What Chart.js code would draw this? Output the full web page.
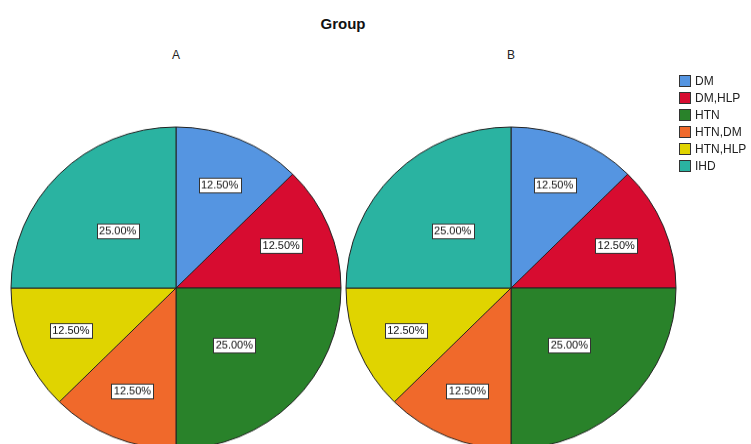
<!DOCTYPE html>
<html>
<head>
<meta charset="utf-8">
<script src="https://cdn.jsdelivr.net/npm/chart.js@4/dist/chart.umd.min.js"></script>
<style>
  html, body { margin: 0; padding: 0; background: #fff; }
  #stage { position: relative; width: 751px; height: 444px; overflow: hidden;
           font-family: "Liberation Sans", Arial, sans-serif; }
  #title { position: absolute; left: 0; width: 686px; top: 15px; text-align: center;
           font-weight: bold; font-size: 15px; color: #111; }
  .panel-label { position: absolute; top: 48px; width: 40px; margin-left: -20px;
                 text-align: center; font-size: 12px; color: #222; }
  .pie { position: absolute; top: 0; width: 352px; height: 576px;
         transform: scaleY(0.976); transform-origin: 50% 288px; }
  #legend { position: absolute; left: 679px; top: 72px; font-size: 12px; color: #222; }
  .item { display: flex; align-items: center; height: 17px; white-space: nowrap; }
  .sw { width: 10px; height: 10px; border: 1px solid #333; margin-right: 4px; }
</style>
</head>
<body>
<div id="stage">
  <div id="title">Group</div>
  <div class="panel-label" style="left:176px">A</div>
  <div class="panel-label" style="left:511px">B</div>
  <div class="pie" style="left:0px"><canvas id="pieA"></canvas></div>
  <div class="pie" style="left:335px"><canvas id="pieB"></canvas></div>
  <div id="legend"></div>
</div>
<script>
// Diagnosis categories and percentage share per group
const categories = ['DM', 'DM,HLP', 'HTN', 'HTN,DM', 'HTN,HLP', 'IHD'];
const groupA = [12.5, 12.5, 25, 12.5, 12.5, 25];
const groupB = [12.5, 12.5, 25, 12.5, 12.5, 25];
const sliceColors = ['#5595E1', '#D70C30', '#29822A', '#F0692B', '#E0D400', '#2AB3A1'];

// Boxed percentage labels inside each slice
const sliceLabels = {
  id: 'sliceLabels',
  afterDatasetsDraw(chart) {
    const ctx = chart.ctx;
    const meta = chart.getDatasetMeta(0);
    const vals = chart.data.datasets[0].data;
    const total = vals.reduce((a, b) => a + b, 0);
    ctx.save();
    ctx.font = '11px "Liberation Sans", Arial, sans-serif';
    ctx.textAlign = 'center';
    ctx.textBaseline = 'middle';
    meta.data.forEach((arc, i) => {
      const p = arc.getProps(['x', 'y', 'startAngle', 'endAngle', 'outerRadius'], true);
      const share = vals[i] / total;
      const mid = (p.startAngle + p.endAngle) / 2;
      const rr = p.outerRadius * (share < 0.2 ? 0.69 : 0.5);
      const x = p.x + Math.cos(mid) * rr;
      const y = p.y + Math.sin(mid) * rr;
      const txt = (share * 100).toFixed(2) + '%';
      const w = Math.round(ctx.measureText(txt).width) + 5, h = 15;
      const bx = Math.round(x - w / 2) + 0.5, by = Math.round(y - h / 2) + 0.5;
      ctx.fillStyle = '#fff';
      ctx.fillRect(bx, by, w, h);
      ctx.strokeStyle = '#333';
      ctx.lineWidth = 1;
      ctx.strokeRect(bx, by, w, h);
      ctx.fillStyle = '#111';
      ctx.fillText(txt, x, y + 0.5);
    });
    ctx.restore();
  }
};

function makePie(id, values) {
  return new Chart(document.getElementById(id), {
    type: 'pie',
    data: {
      labels: categories,
      datasets: [{
        data: values,
        backgroundColor: sliceColors,
        borderColor: '#222',
        borderWidth: 1,
        hoverOffset: 0
      }]
    },
    options: {
      responsive: true,
      maintainAspectRatio: false,
      animation: false,
      radius: 165,
      layout: { padding: 0 },
      events: [],
      plugins: {
        legend: { display: false },
        tooltip: { enabled: false },
        title: { display: false }
      }
    },
    plugins: [sliceLabels]
  });
}

makePie('pieA', groupA);
makePie('pieB', groupB);

// Legend built from the category list
const legend = document.getElementById('legend');
categories.forEach((name, i) => {
  const row = document.createElement('div');
  row.className = 'item';
  const sw = document.createElement('span');
  sw.className = 'sw';
  sw.style.background = sliceColors[i];
  const label = document.createElement('span');
  label.textContent = name;
  row.appendChild(sw);
  row.appendChild(label);
  legend.appendChild(row);
});
</script>
</body>
</html>
